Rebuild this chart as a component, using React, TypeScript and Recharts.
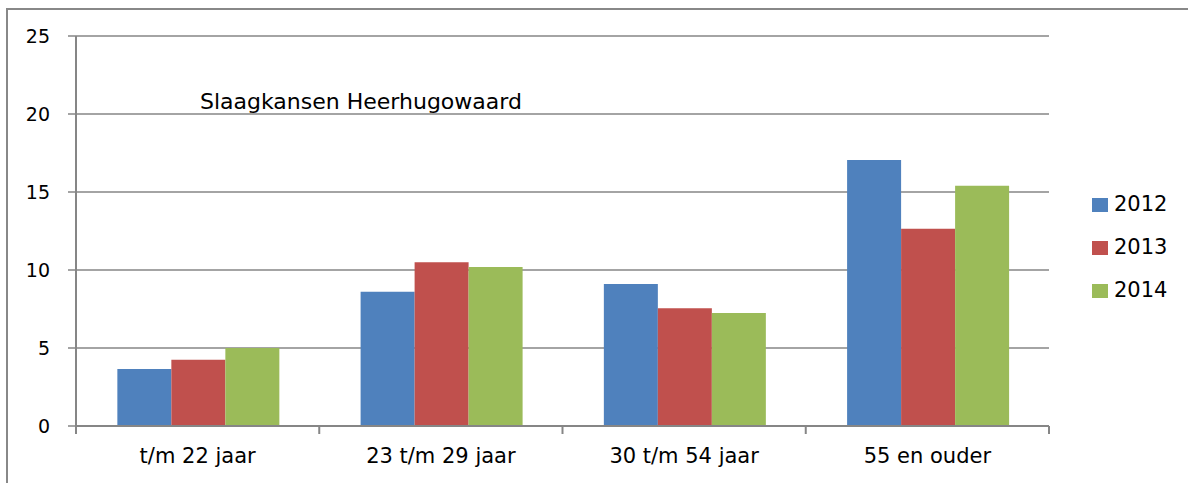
import { BarChart, Bar, XAxis, YAxis, CartesianGrid, Legend } from "recharts";

const categories = ["t/m 22 jaar", "23 t/m 29 jaar", "30 t/m 54 jaar", "55 en ouder"];
const values2012 = [3.65, 8.6, 9.1, 17.05];
const values2013 = [4.25, 10.5, 7.55, 12.65];
const values2014 = [5.0, 10.2, 7.25, 15.4];
const yTicks = [0, 5, 10, 15, 20, 25];

const series = [
  { key: "y2012", label: "2012", color: "#4F81BD" },
  { key: "y2013", label: "2013", color: "#C0504D" },
  { key: "y2014", label: "2014", color: "#9BBB59" },
];

const data = categories.map((category, i) => ({
  category,
  y2012: values2012[i],
  y2013: values2013[i],
  y2014: values2014[i],
}));

const WIDTH = 1188;
const HEIGHT = 483;
const LEGEND_WIDTH = 96;
const FONT = "'DejaVu Sans', sans-serif";
const GRID = "#868686";
const TICK_SIZE = 8;
const TICK_MARGIN = 2;

function CategoryTick(props: any) {
  const { x, y, payload, index, visibleTicksCount } = props;
  const half = payload?.offset || (WIDTH - 139 - 76) / categories.length / 2;
  const top = y - TICK_MARGIN - TICK_SIZE;
  return (
    <g>
      <line x1={x - half} x2={x - half} y1={top} y2={top + TICK_SIZE} stroke={GRID} strokeWidth={2} />
      {index === visibleTicksCount - 1 && (
        <line x1={x + half} x2={x + half} y1={top} y2={top + TICK_SIZE} stroke={GRID} strokeWidth={2} />
      )}
      <text x={x} y={y} dy={27} textAnchor="middle" fill="#000" fontSize={21} fontFamily={FONT}>
        {payload.value}
      </text>
    </g>
  );
}

function LegendBox(props: any) {
  const { payload } = props;
  return (
    <div style={{ fontFamily: FONT, fontSize: 21, color: "#000", width: LEGEND_WIDTH }}>
      {(payload || []).map((entry: any) => (
        <div
          key={entry.value}
          style={{ display: "flex", alignItems: "center", height: 43, lineHeight: "43px" }}
        >
          <span
            style={{
              display: "inline-block",
              width: 16,
              height: 14,
              backgroundColor: entry.color,
              marginRight: 6,
            }}
          />
          <span>{entry.value}</span>
        </div>
      ))}
    </div>
  );
}

export default function App() {
  return (
    <div style={{ position: "absolute", left: 0, top: 0, width: WIDTH, height: HEIGHT, background: "#fff" }}>
      <div
        style={{
          position: "absolute",
          left: 6,
          top: 8,
          width: WIDTH,
          height: HEIGHT,
          borderTop: "2px solid #888",
          borderLeft: "2px solid #888",
          boxSizing: "border-box",
        }}
      />
      <BarChart
        width={WIDTH}
        height={HEIGHT}
        data={data}
        margin={{ top: 36, right: 139 - LEGEND_WIDTH, bottom: 7, left: 0 }}
        barCategoryGap="17%"
        barGap={0}
      >
        <CartesianGrid vertical={false} stroke={GRID} strokeWidth={1.5} />
        <XAxis
          dataKey="category"
          height={50}
          axisLine={{ stroke: GRID, strokeWidth: 2 }}
          tickLine={false}
          tickSize={TICK_SIZE}
          tickMargin={TICK_MARGIN}
          tick={<CategoryTick />}
          interval={0}
        />
        <YAxis
          width={76}
          domain={[0, 25]}
          ticks={yTicks}
          interval={0}
          axisLine={{ stroke: GRID, strokeWidth: 2 }}
          tickLine={{ stroke: GRID, strokeWidth: 1.5 }}
          tickSize={8}
          tickMargin={18}
          tick={{ fill: "#000", fontSize: 19, fontFamily: FONT }}
        />
        <Legend
          layout="vertical"
          align="right"
          verticalAlign="top"
          content={<LegendBox />}
          wrapperStyle={{ left: 1092, top: 183, width: LEGEND_WIDTH }}
        />
        {series.map((s) => (
          <Bar key={s.key} dataKey={s.key} name={s.label} fill={s.color} isAnimationActive={false} />
        ))}
      </BarChart>
      <div
        style={{
          position: "absolute",
          left: 200,
          top: 91,
          fontFamily: FONT,
          fontSize: 22,
          lineHeight: "22px",
          color: "#000",
          whiteSpace: "nowrap",
        }}
      >
        Slaagkansen Heerhugowaard
      </div>
    </div>
  );
}
